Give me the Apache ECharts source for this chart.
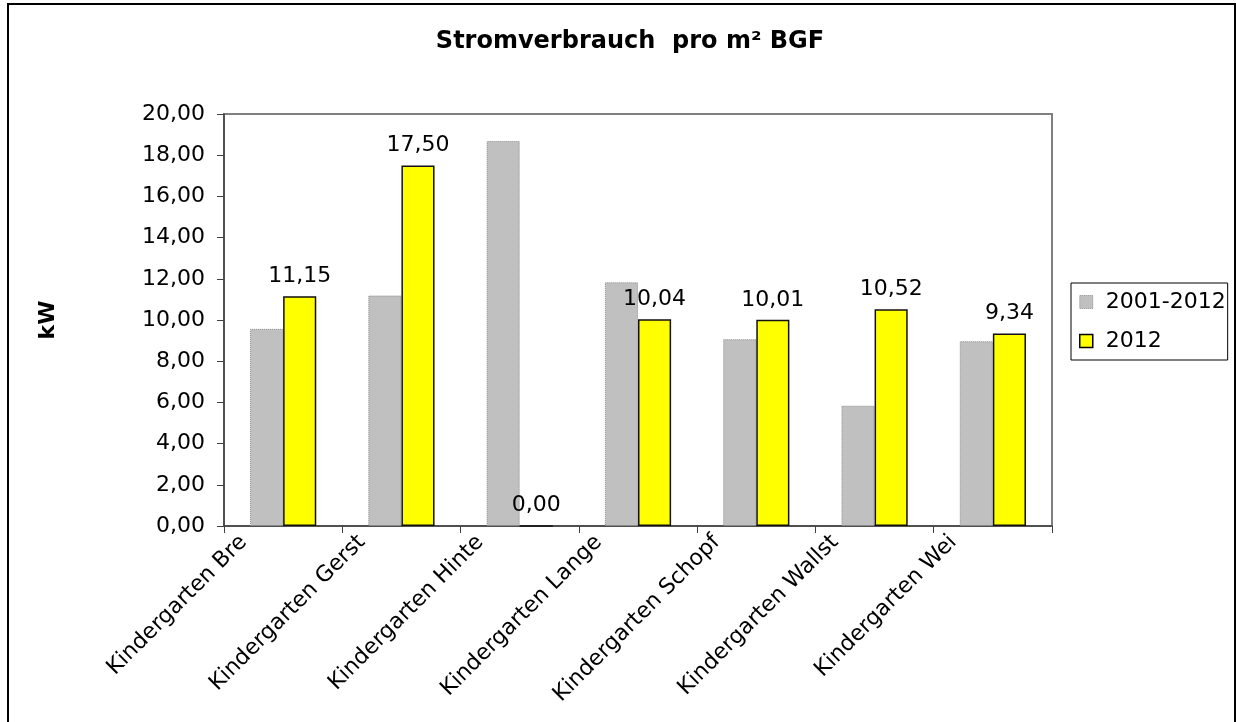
<!DOCTYPE html>
<html>
<head>
<meta charset="utf-8">
<title>Stromverbrauch pro m² BGF</title>
<script src="https://cdn.jsdelivr.net/npm/echarts@6/dist/echarts.min.js"></script>
<style>
  html, body { margin: 0; padding: 0; background: #ffffff; }
  #chart { width: 1236px; height: 722px; }
</style>
</head>
<body>
<div id="chart"></div>
<script>
// Kindergartens (names shortened as on the axis)
const categories = [
  'Kindergarten Bre',
  'Kindergarten Gerst',
  'Kindergarten Hinte',
  'Kindergarten Lange',
  'Kindergarten Schopf',
  'Kindergarten Wallst',
  'Kindergarten Wei'
];

// Average 2001-2012 and the 2012 value, kW per m² BGF
const avg2001to2012 = [9.57, 11.19, 18.69, 11.83, 9.07, 5.84, 8.97];
const year2012 = [11.15, 17.50, 0.00, 10.04, 10.01, 10.52, 9.34];

const seriesNames = ['2001-2012', '2012'];
const yTicks = { min: 0, max: 20, interval: 2 };

const FONT = 'DejaVu Sans';
const fmt = v => v.toFixed(2).replace('.', ',');

const chart = echarts.init(document.getElementById('chart'), null, { renderer: 'canvas' });

chart.setOption({
  backgroundColor: '#ffffff',
  animation: false,
  title: {
    text: 'Stromverbrauch  pro m² BGF',
    left: 625,
    top: 25,
    textAlign: 'center',
    textStyle: { fontFamily: FONT, fontSize: 24, fontWeight: 'bold', color: '#000' }
  },
  legend: {
    data: [
      { name: seriesNames[0], icon: 'rect', itemStyle: { borderColor: '#8a8a8a', borderWidth: 1, borderType: 'dotted' } },
      { name: seriesNames[1], icon: 'rect', itemStyle: { borderColor: '#000', borderWidth: 1.5 } }
    ],
    orient: 'vertical',
    left: 1071,
    top: 283,
    padding: [8, 2, 8, 8],
    itemGap: 17,
    itemWidth: 13,
    itemHeight: 13,
    borderColor: '#000',
    borderWidth: 1,
    textStyle: { fontFamily: FONT, fontSize: 22, color: '#000', padding: [0, 0, 0, 8] }
  },
  grid: {
    left: 224, right: 184, top: 114, bottom: 196,
    outerBoundsMode: 'none',
    show: true, borderColor: '#808080', borderWidth: 2
  },
  xAxis: {
    type: 'category',
    data: categories,
    axisLine: { show: true, lineStyle: { color: '#404040', width: 1.5 } },
    axisTick: { show: true, length: 7, lineStyle: { color: '#404040' } },
    axisLabel: {
      rotate: 45,
      interval: 0,
      margin: 10,
      padding: [0, 30, 0, 0],
      verticalAlign: 'bottom',
      lineHeight: 52,
      fontFamily: FONT,
      fontSize: 22,
      color: '#000'
    }
  },
  yAxis: {
    type: 'value',
    min: yTicks.min,
    max: yTicks.max,
    interval: yTicks.interval,
    name: 'kW',
    nameLocation: 'middle',
    nameGap: 165,
    nameRotate: 90,
    nameTextStyle: { fontFamily: FONT, fontSize: 22, fontWeight: 'bold', color: '#000' },
    axisLine: { show: true, lineStyle: { color: '#404040', width: 1.5 } },
    axisTick: { show: true, length: 7, lineStyle: { color: '#404040' } },
    splitLine: { show: false },
    axisLabel: {
      margin: 19,
      fontFamily: FONT,
      fontSize: 22,
      color: '#000',
      formatter: v => fmt(v)
    }
  },
  series: [
    {
      name: seriesNames[0],
      type: 'bar',
      data: avg2001to2012,
      barGap: '0%',
      barCategoryGap: '44%',
      itemStyle: { color: '#c0c0c0', borderColor: '#8a8a8a', borderWidth: 1, borderType: 'dotted' }
    },
    {
      name: seriesNames[1],
      type: 'bar',
      data: year2012,
      barGap: '0%',
      barCategoryGap: '44%',
      itemStyle: { color: '#ffff00', borderColor: '#111', borderWidth: 1.5 },
      label: {
        show: true,
        position: 'top',
        distance: 9,
        fontFamily: FONT,
        fontSize: 22,
        color: '#000',
        formatter: p => fmt(p.value)
      }
    }
  ],
  graphic: [
    {
      type: 'rect',
      shape: { x: 8, y: 4, width: 1227, height: 730 },
      style: { fill: 'none', stroke: '#000', lineWidth: 2 },
      silent: true,
      z: -1
    }
  ]
});
</script>
</body>
</html>
